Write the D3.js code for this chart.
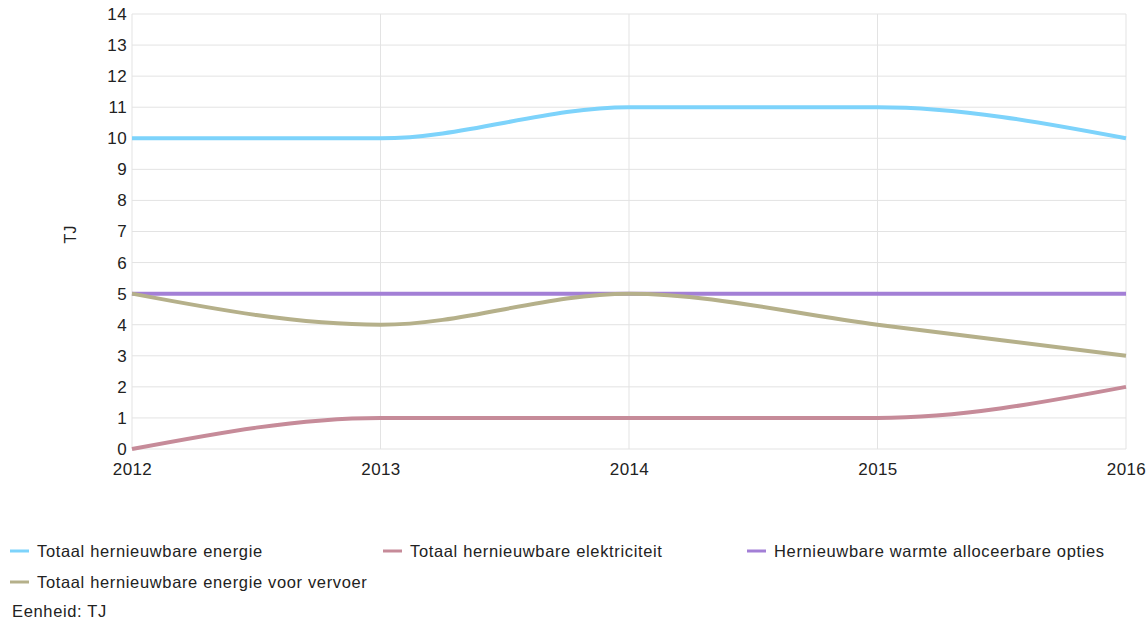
<!DOCTYPE html>
<html><head><meta charset="utf-8">
<script src="https://cdn.jsdelivr.net/npm/d3@7"></script>
<style>body{margin:0;background:#fff;} text{font-family:Arial,"Liberation Sans",sans-serif;}</style>
</head><body>
<svg id="c" width="1147" height="620"></svg>
<script>
const years = [2012, 2013, 2014, 2015, 2016];
const seriesNames = ["Totaal hernieuwbare energie","Totaal hernieuwbare elektriciteit","Hernieuwbare warmte alloceerbare opties","Totaal hernieuwbare energie voor vervoer"];
const totaalEnergie = [10, 10, 11, 11, 10];
const totaalElektriciteit = [0, 1, 1, 1, 2];
const warmte = [5, 5, 5, 5, 5];
const vervoer = [5, 4, 5, 4, 3];
const yTicks = [0,1,2,3,4,5,6,7,8,9,10,11,12,13,14];
const colors = ["#7dd3fb", "#c68b99", "#a37fd6", "#b5b08a"];
const unitLabel = "Eenheid: TJ";
const yTitle = "TJ";

const svg = d3.select("#c");
const L = 132, R = 1126, T = 14, B = 449;
const x = d3.scaleLinear().domain([2012, 2016]).range([L, R]);
const y = d3.scaleLinear().domain([0, 14]).range([B, T]);

// grid
svg.append("g").selectAll("line").data(yTicks).join("line")
  .attr("x1", L).attr("x2", R).attr("y1", d => y(d)).attr("y2", d => y(d))
  .attr("stroke", "#e3e3e3").attr("stroke-width", 1);
svg.append("g").selectAll("line").data(years).join("line")
  .attr("y1", T).attr("y2", B).attr("x1", d => x(d)).attr("x2", d => x(d))
  .attr("stroke", "#e3e3e3").attr("stroke-width", 1);

// axes
const ya = svg.append("g").attr("transform", `translate(${L},0)`)
  .call(d3.axisLeft(y).tickValues(yTicks).tickSize(0).tickPadding(5));
ya.select(".domain").remove();
ya.selectAll("text").attr("font-size", 17).attr("fill", "#222").attr("letter-spacing", "0.4");
const xa = svg.append("g").attr("transform", `translate(0,${B})`)
  .call(d3.axisBottom(x).tickValues(years).tickFormat(d3.format("d")).tickSize(0).tickPadding(14));
xa.select(".domain").remove();
xa.selectAll("text").attr("font-size", 17).attr("fill", "#222").attr("letter-spacing", "0.4");

svg.append("text").attr("transform", `translate(76,${y(7) + 3}) rotate(-90)`)
  .attr("text-anchor", "middle").attr("font-size", 16).attr("fill", "#222").text(yTitle);

// lines
const data = [totaalEnergie, totaalElektriciteit, warmte, vervoer];
const line = d3.line().x((d, i) => x(years[i])).y(d => y(d)).curve(d3.curveMonotoneX);
svg.append("g").selectAll("path").data(data).join("path")
  .attr("d", d => line(d)).attr("fill", "none")
  .attr("stroke", (d, i) => colors[i]).attr("stroke-width", 4).attr("stroke-linecap", "butt");

// legend
const legPos = [[10, 551], [383, 551], [747, 551], [10, 582]];
const lg = svg.append("g").selectAll("g").data(seriesNames).join("g")
  .attr("transform", (d, i) => `translate(${legPos[i][0]},${legPos[i][1]})`);
lg.append("line").attr("x1", 0).attr("x2", 19).attr("stroke", (d, i) => colors[i]).attr("stroke-width", 3);
lg.append("text").attr("x", 27).attr("dy", "0.35em").attr("font-size", 16.5).attr("fill", "#222")
  .attr("letter-spacing", "0.65").text(d => d);

svg.append("text").attr("x", 12).attr("y", 617).attr("font-size", 16.5).attr("fill", "#222")
  .attr("letter-spacing", "0.65").text(unitLabel);
</script>
</body></html>
